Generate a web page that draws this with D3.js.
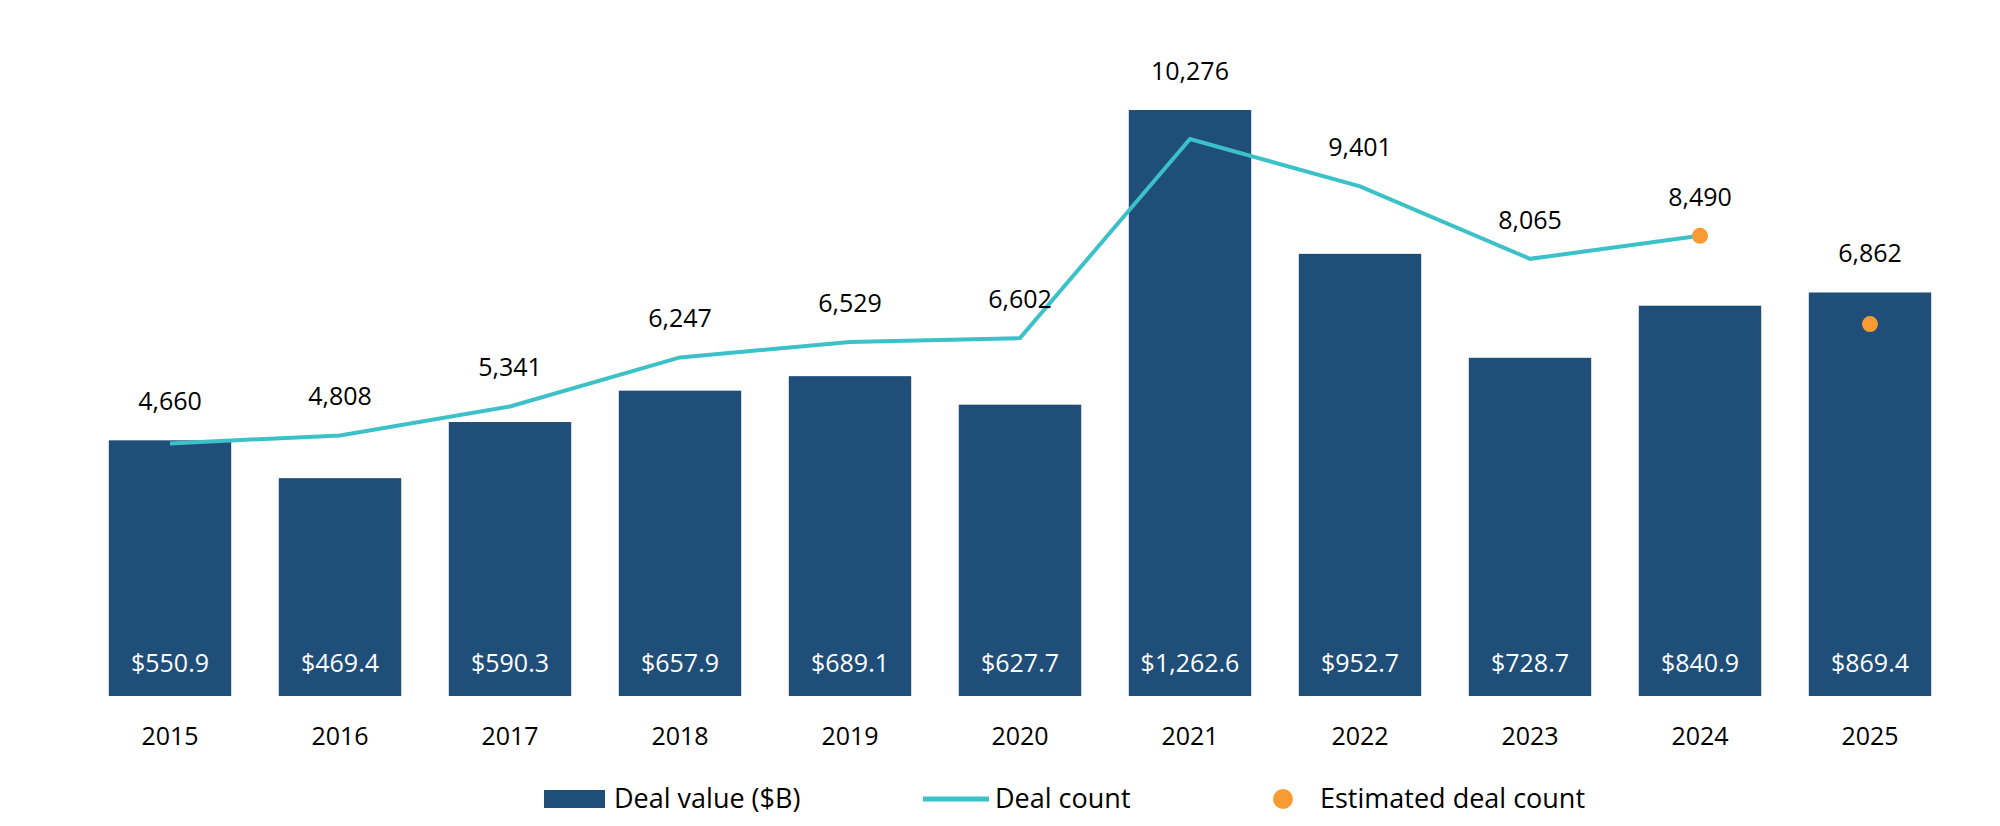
<!DOCTYPE html>
<html><head><meta charset="utf-8">
<script src="https://cdn.jsdelivr.net/npm/d3@7"></script>
<style>body{margin:0;background:#fff}text{font-family:"Open Sans","Liberation Sans",Arial,sans-serif}</style>
</head><body><svg id="c" width="2000" height="826"></svg>
<script>
const years=["2015","2016","2017","2018","2019","2020","2021","2022","2023","2024","2025"];
const dealValue=[550.9,469.4,590.3,657.9,689.1,627.7,1262.6,952.7,728.7,840.9,869.4];
const dealCount=[4660,4808,5341,6247,6529,6602,10276,9401,8065,8490,null];
const estimated=[null,null,null,null,null,null,null,null,null,8490,6862];
const countLabels=[4660,4808,5341,6247,6529,6602,10276,9401,8065,8490,6862];

const svg=d3.select("#c");
const base=696;
const x=d3.scaleBand().domain(years).range([85,1955]).paddingInner(0.28).paddingOuter(0.14);
const yb=d3.scaleLinear().domain([0,1262.6]).range([base,110]);
const yl=d3.scaleLinear().domain([0,10276]).range([base,139]);
const cx=d=>x(d)+x.bandwidth()/2;
const BAR="#1F4E79",LINE="#3CC1C8",ORG="#F99B33";

svg.selectAll(".bar").data(years).join("rect").attr("x",d=>x(d)).attr("width",x.bandwidth())
 .attr("y",(d,i)=>yb(dealValue[i])).attr("height",(d,i)=>base-yb(dealValue[i])).attr("fill",BAR);
svg.selectAll(".vl").data(years).join("text").attr("x",cx).attr("y",672).attr("text-anchor","middle")
 .attr("fill","#fff").attr("font-size",25).text((d,i)=>"$"+d3.format(",.1f")(dealValue[i]));
const line=d3.line().defined((d,i)=>dealCount[i]!=null).x(d=>cx(d)).y((d,i)=>yl(dealCount[i]));
svg.append("path").attr("d",line(years)).attr("fill","none").attr("stroke",LINE).attr("stroke-width",4);
svg.selectAll(".dot").data(years.filter((d,i)=>estimated[i]!=null)).join("circle")
 .attr("cx",cx).attr("cy",d=>yl(estimated[years.indexOf(d)])).attr("r",8).attr("fill",ORG);
svg.selectAll(".cl").data(years).join("text").attr("x",cx).attr("text-anchor","middle").attr("font-size",25).attr("fill","#000")
 .attr("y",(d,i)=>{const p=dealCount[i]!=null?yl(dealCount[i]):yl(estimated[i]);return Math.min(p,yb(dealValue[i]))-30;})
 .text((d,i)=>d3.format(",")(countLabels[i]));
svg.selectAll(".yr").data(years).join("text").attr("x",cx).attr("y",745).attr("text-anchor","middle")
 .attr("font-size",25).attr("fill","#000").text(d=>d);
const lg=svg.append("g").attr("font-size",27);
lg.append("rect").attr("x",544).attr("y",790).attr("width",61).attr("height",18).attr("fill",BAR);
lg.append("text").attr("x",614).attr("y",808).text("Deal value ($B)");
lg.append("line").attr("x1",923).attr("x2",989).attr("y1",799).attr("y2",799).attr("stroke",LINE).attr("stroke-width",5);
lg.append("text").attr("x",995).attr("y",808).text("Deal count");
lg.append("circle").attr("cx",1283).attr("cy",799).attr("r",10).attr("fill",ORG);
lg.append("text").attr("x",1320).attr("y",808).text("Estimated deal count");
</script></body></html>
